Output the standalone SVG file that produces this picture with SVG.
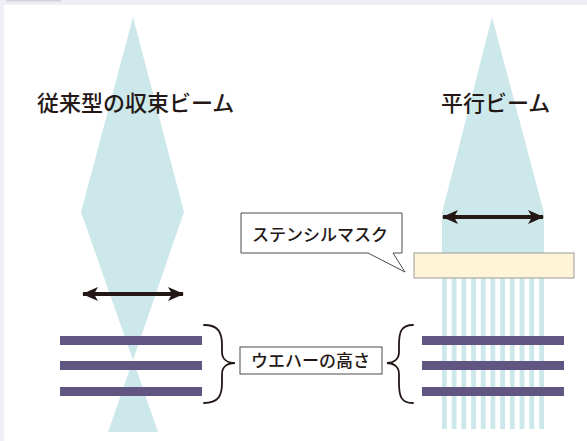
<svg xmlns="http://www.w3.org/2000/svg" width="587" height="441" viewBox="0 0 587 441">
<style>
.beam{fill:#cde8ea}
.wafer{fill:#615681}
.box{fill:#fff;stroke:#4a4a4a;stroke-width:1}
.brace{fill:none;stroke:#231815;stroke-width:1.8;stroke-linecap:round}
.arrow{stroke:#231815;stroke-width:4}
.t{font-family:"Noto Sans CJK JP","Noto Sans CJK SC",sans-serif;fill:#231815;font-weight:500}
</style>
<defs>
<marker id="ah" viewBox="0 0 16 14" refX="15" refY="7" markerWidth="16" markerHeight="14" markerUnits="userSpaceOnUse" orient="auto-start-reverse">
<path d="M0,0 L16,7 L0,14 L4,7 Z" fill="#231815"/>
</marker>
<filter id="sh" x="-20%" y="-200%" width="140%" height="500%"><feGaussianBlur stdDeviation="1.2"/></filter>
</defs>
<rect width="587" height="441" fill="#fff"/>
<rect width="587" height="5" fill="#efeff8"/>
<rect width="4" height="441" fill="#efeff8"/>
<rect x="6" y="-1" width="55" height="2" fill="#bbbbc4" filter="url(#sh)"/>

<g id="conventional-beam">
<polygon class="beam" points="133,17 184,212 133,360 158,432 108,432 133,360 81,212"/>
</g>
<g id="parallel-beam">
<polygon class="beam" points="492,17 544,213 544,253 442,253 442,213"/>
<g class="beam">
<rect x="442" y="278" width="4.8" height="151"/>
<rect x="451.7" y="278" width="4.8" height="151"/>
<rect x="461.4" y="278" width="4.8" height="151"/>
<rect x="471.1" y="278" width="4.8" height="151"/>
<rect x="480.8" y="278" width="4.8" height="151"/>
<rect x="490.5" y="278" width="4.8" height="151"/>
<rect x="500.2" y="278" width="4.8" height="151"/>
<rect x="509.9" y="278" width="4.8" height="151"/>
<rect x="519.6" y="278" width="4.8" height="151"/>
<rect x="529.3" y="278" width="4.8" height="151"/>
<rect x="539.2" y="278" width="4.8" height="151"/>
</g>
</g>
<g id="stencil-mask">
<rect x="414" y="253" width="160" height="25" fill="#fff4d8" stroke="#9a9a9a" stroke-width="1"/>
</g>
<g id="wafers-left">
<rect class="wafer" x="60" y="336" width="142" height="9"/>
<rect class="wafer" x="60" y="361" width="142" height="9"/>
<rect class="wafer" x="60" y="387" width="142" height="9"/>
</g>
<g id="wafers-right">
<rect class="wafer" x="422" y="336" width="142" height="9"/>
<rect class="wafer" x="422" y="361" width="142" height="9"/>
<rect class="wafer" x="422" y="387" width="142" height="9"/>
</g>

<g id="connectors">
<line class="arrow" x1="83" y1="294" x2="183" y2="294" marker-start="url(#ah)" marker-end="url(#ah)"/>
<line class="arrow" x1="443" y1="217" x2="543" y2="217" marker-start="url(#ah)" marker-end="url(#ah)"/>
<path class="brace" d="M204,325 C218,325 222,332 222,345 L222,352 C222,359 227,363 235,363 C227,363 222,367 222,374 L222,383 C222,396 218,403 204,403"/>
<path class="brace" d="M413,325 C401,325 399,332 399,345 L399,352 C399,359 394,363 387,363 C394,363 399,367 399,374 L399,383 C399,396 401,403 413,403"/>
</g>

<g id="title-conventional"><text class="t" x="37" y="111" font-size="22">従来型の収束ビーム</text></g>
<g id="title-parallel"><text class="t" x="441" y="111" font-size="22">平行ビーム</text></g>

<g id="callout-stencil">
<path class="box" d="M241,213 H402 V253 H393 L405,272 L368,253 H241 Z"/>
<text class="t" x="252" y="241" font-size="17">ステンシルマスク</text>
</g>
<g id="label-wafer-height">
<rect class="box" x="240" y="347" width="142" height="27"/>
<text class="t" x="251" y="367" font-size="17">ウエハーの高さ</text>
</g>
</svg>
